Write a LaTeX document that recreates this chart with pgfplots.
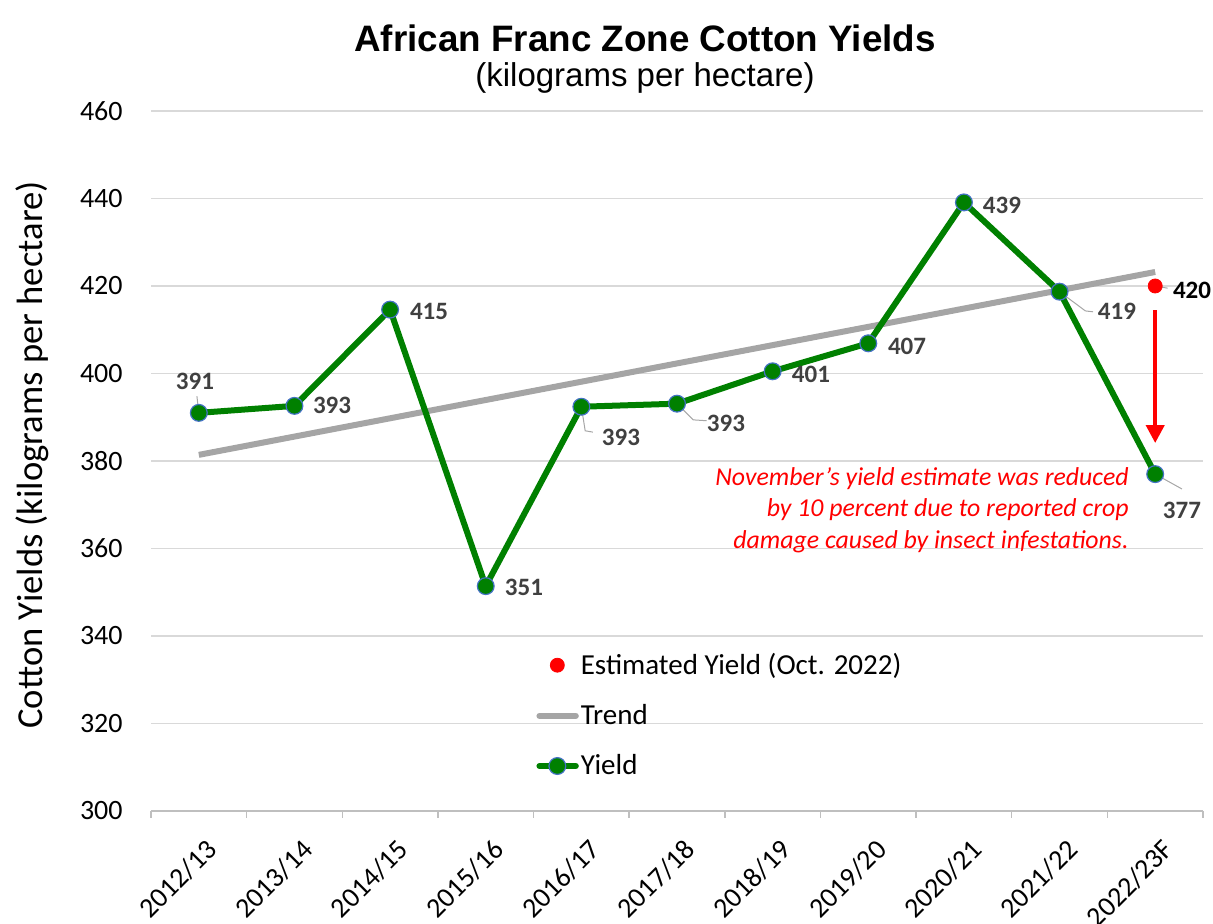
\documentclass[border=0pt]{standalone}
\usepackage{pgfplots}
\pgfplotsset{compat=1.18}
\usepackage{fontspec}
\setmainfont{Carlito}
\newfontfamily\arial{Liberation Sans}
\usetikzlibrary{arrows.meta}
\definecolor{yieldgreen}{RGB}{0,128,0}
\definecolor{trendgray}{RGB}{165,165,165}
\definecolor{gridgray}{RGB}{217,217,217}
\definecolor{axisgray}{RGB}{191,191,191}
\definecolor{labelgray}{RGB}{64,64,64}
\definecolor{markedge}{RGB}{68,114,196}
\definecolor{leadergray}{RGB}{166,166,166}
\pgfplotsset{
  dotlegend/.style={legend image code/.code={\draw[##1] plot coordinates {(9.75pt,0pt)};}},
  linelegend/.style={legend image code/.code={\draw[##1, line cap=round] (0.8pt,0pt) -- (19pt,0pt);}},
  marklegend/.style={legend image code/.code={\draw[mark repeat=2, mark phase=2, ##1, line cap=round] plot coordinates {(0.8pt,0pt) (9.75pt,0pt) (19pt,0pt)};}},
}
\begin{document}
\begin{tikzpicture}
\path[use as bounding box] (0,0) rectangle (606.5pt,462pt);
\node[font=\arial\bfseries\fontsize{18.4}{22}\selectfont, anchor=base] at (322.5pt,436pt) {African Franc Zone Cotton Yields};
\node[font=\arial\fontsize{16.5}{20}\selectfont, anchor=base] at (322.5pt,418.5pt) {(kilograms per hectare)};
\node[font=\fontsize{18.3}{22}\selectfont, rotate=90, anchor=base] at (21pt,234.5pt) {Cotton Yields (kilograms per hectare)};
\begin{axis}[
  at={(75.5pt,56.5pt)}, anchor=south west,
  scale only axis, width=526pt, height=350pt,
  xmin=-0.5, xmax=10.5, ymin=300, ymax=460,
  clip=false,
  ytick={300,320,...,460},
  ymajorgrids, grid style={gridgray, line width=0.6pt},
  xtick={0,...,10},
  xticklabels={2012/13,2013/14,2014/15,2015/16,2016/17,2017/18,2018/19,2019/20,2020/21,2021/22,2022/23F},
  minor xtick={-0.5,0.5,...,10.5},
  axis x line*=bottom, axis y line*=left,
  x axis line style={axisgray, line width=0.7pt, -},
  y axis line style={draw=none},
  ytick style={draw=none},
  major x tick style={draw=none},
  minor x tick style={axisgray, line width=0.7pt},
  tick align=outside,
  major tick length=0pt, minor tick length=3.5pt,
  /pgf/number format/assume math mode=true,
  yticklabel style={font=\fontsize{14}{16}\selectfont, anchor=east, inner sep=0pt, xshift=-14pt},
  xticklabel style={font=\fontsize{14}{16}\selectfont, xshift=3pt, yshift=-13pt, rotate=45, anchor=north east, inner sep=0pt},
  legend style={at={(0.366,0.229)}, anchor=north west, draw=none, fill=none,
    font=\fontsize{14.5}{16}\selectfont, row sep=11.5pt, inner sep=0pt,
    nodes={inner sep=1pt}},
  legend cell align=left,
]
\addplot[only marks, mark=*, mark size=3.5pt, color=red, dotlegend]
  coordinates {(10,420)};
\addlegendentry{Estimated Yield (Oct. 2022)}
\addplot[trendgray, line width=3pt, no marks, linelegend]
  coordinates {(0,381.4) (10,423.2)};
\addlegendentry{Trend}
\addplot[yieldgreen, line width=3pt, mark=*, mark size=4.2pt,
  mark options={fill=yieldgreen, draw=markedge, line width=0.6pt}, marklegend]
  coordinates {(0,391) (1,392.6) (2,414.6) (3,351.4) (4,392.4) (5,393.1) (6,400.5) (7,406.9) (8,439.1) (9,418.7) (10,377)};
\addlegendentry{Yield}
% leader lines
\draw[leadergray, line width=0.5pt] (axis cs:0,391) -- (axis cs:-0.02,394.8);
\draw[leadergray, line width=0.5pt] (axis cs:4,392.4) -- (axis cs:4.04,386.9) -- (axis cs:4.12,386.6);
\draw[leadergray, line width=0.5pt] (axis cs:5,393.1) -- (axis cs:5.17,389.4) -- (axis cs:5.31,389.2);
\draw[leadergray, line width=0.5pt] (axis cs:9,418.7) -- (axis cs:9.27,414.3) -- (axis cs:9.35,414.1);
\draw[leadergray, line width=0.5pt] (axis cs:10,377) -- (axis cs:10.28,373.6);
\draw[leadergray, line width=0.5pt] (axis cs:10.05,419.8) -- (axis cs:10.13,419.5);
% data labels
\begin{scope}[every node/.style={font=\bfseries\fontsize{12.5}{14}\selectfont, text=labelgray, inner sep=0pt}]
\node at (axis cs:-0.04,398.3) {391};
\node at (axis cs:1.393,392.8) {393};
\node at (axis cs:2.407,414.1) {415};
\node at (axis cs:3.4,351) {351};
\node at (axis cs:4.414,385.5) {393};
\node at (axis cs:5.512,388.7) {393};
\node at (axis cs:6.401,399.7) {401};
\node at (axis cs:7.405,406.3) {407};
\node at (axis cs:8.398,438.5) {439};
\node at (axis cs:9.6,414.3) {419};
\node at (axis cs:10.28,368.6) {377};
\node[text=black] at (axis cs:10.385,419.1) {420};
\end{scope}
\draw[red, line width=2pt, -{Triangle[length=9pt,width=9pt]}] (axis cs:10,414.5) -- (axis cs:10,384.1);
\node[anchor=east, align=right, text=red, inner sep=0pt,
  font=\itshape\fontsize{12.9}{15.75}\selectfont] at (axis cs:9.726,368.8)
  {November’s yield estimate was reduced\\by 10 percent due to reported crop\\damage caused by insect infestations.};
\end{axis}
\end{tikzpicture}
\end{document}
